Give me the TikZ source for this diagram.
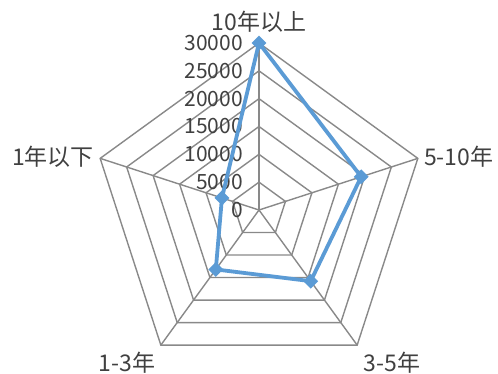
\documentclass[tikz,border=0pt]{standalone}
\usepackage{fontspec}
\setmainfont{Noto Sans CJK SC}
\usetikzlibrary{shapes.geometric,calc}
\definecolor{gridgray}{HTML}{898989}
\definecolor{serblue}{HTML}{5B9BD5}
\definecolor{txt}{HTML}{404040}
\begin{document}
\begin{tikzpicture}[x=1pt,y=1pt,
  gridline/.style={draw=gridgray,line width=1.4pt},
  series/.style={draw=serblue,line width=3.8pt,line join=round},
  mk/.style={diamond,fill=serblue,inner sep=0pt,minimum width=15pt,minimum height=15pt},
  catlabel/.style={text=txt,font=\fontsize{23}{25}\selectfont,inner sep=0pt},
  ticklabel/.style={text=txt,font=\fontsize{21}{23}\selectfont,inner sep=0pt,anchor=east}]
\useasboundingbox (0,0) rectangle (498,374);
\coordinate (c) at (259,164);
% rings
\foreach \k in {1,...,6}{
  \pgfmathsetmacro{\r}{167*\k/6}
  \draw[gridline] ($(c)+(90:\r)$) -- ($(c)+(18:\r)$) -- ($(c)+(-54:\r)$) -- ($(c)+(-126:\r)$) -- ($(c)+(162:\r)$) -- cycle;
}
% spokes
\foreach \a in {90,18,-54,-126,162}{
  \draw[gridline] (c) -- ($(c)+(\a:167)$);
}
% tick labels
\foreach \k/\v in {0/0,1/5000,2/10000,3/15000,4/20000,5/25000,6/30000}{
  \node[ticklabel] (t\k) at (243,{164+27.833*\k}) {\v};
}
% category labels
\node[catlabel] (l1) at (259,352) {10年以上};
\node[catlabel,anchor=west] (l2) at (424,217) {5-10年};
\node[catlabel] (l3) at (392,11) {3-5年};
\node[catlabel] (l4) at (127,11) {1-3年};
\node[catlabel,anchor=east] (l5) at (94,217) {1年以下};
% data (radius = 167 * value/30000)
\coordinate (p1) at ($(c)+(90:167)$);
\coordinate (p2) at ($(c)+(18:{167*0.6433})$);
\coordinate (p3) at ($(c)+(-54:{167*0.5267})$);
\coordinate (p4) at ($(c)+(-126:{167*0.44})$);
\coordinate (p5) at ($(c)+(162:{167*0.2333})$);
\draw[series] (p1) -- (p2) -- (p3) -- (p4) -- (p5) -- cycle;
\foreach \i in {1,...,5}{ \node[mk] (m\i) at (p\i) {}; }
\end{tikzpicture}
\end{document}
